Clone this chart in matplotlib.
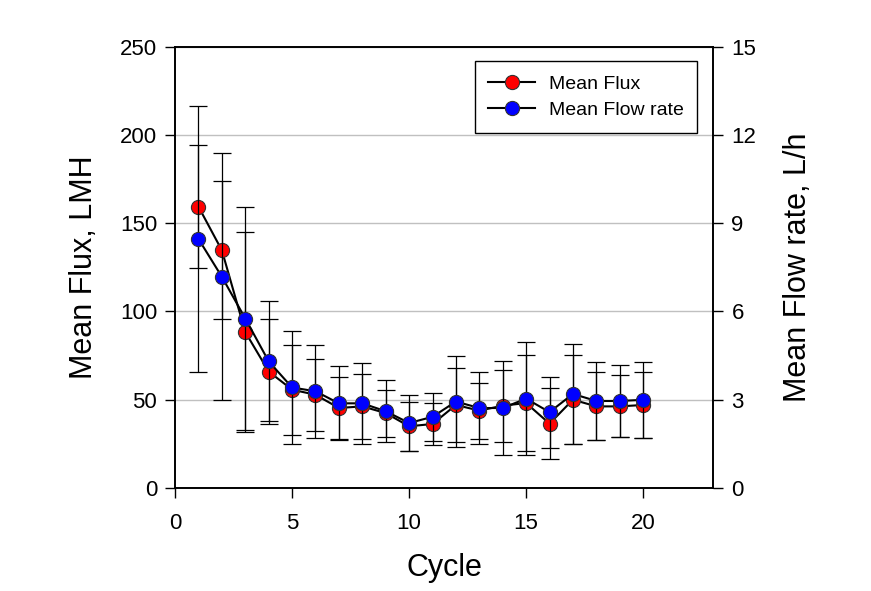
import matplotlib
matplotlib.use("Agg")
import matplotlib.pyplot as plt
from matplotlib.lines import Line2D

plt.rcParams['font.family'] = ['Liberation Sans', 'DejaVu Sans']

cycles = list(range(1, 21))
mean_flux = [159.5, 134.7, 88.3, 65.9, 55.6, 52.7, 45.2, 46.1, 42.3, 34.8,
             36.1, 46.9, 43.7, 46.5, 48.0, 36.3, 49.9, 46.1, 46.1, 46.9]
flux_err = [35.0, 39.2, 56.7, 30.0, 25.6, 20.4, 17.6, 18.4, 13.3, 13.8,
            12.0, 21.0, 15.9, 20.4, 27.2, 20.2, 25.3, 19.3, 17.6, 18.8]
mean_flow = [8.47, 7.18, 5.76, 4.30, 3.41, 3.28, 2.87, 2.87, 2.60, 2.20,
             2.41, 2.93, 2.71, 2.71, 3.03, 2.57, 3.19, 2.95, 2.95, 2.99]
flow_err = [4.54, 4.21, 3.80, 2.04, 1.91, 1.58, 1.26, 1.39, 1.06, 0.94,
            0.81, 1.56, 1.22, 1.61, 1.92, 1.21, 1.71, 1.33, 1.23, 1.30]

left_ticks = [0, 50, 100, 150, 200, 250]
right_ticks = [0, 3, 6, 9, 12, 15]
x_ticks = [0, 5, 10, 15, 20]

fig = plt.figure(figsize=(8.71, 5.91), dpi=100)
ax = fig.add_axes([0.201, 0.175, 0.618, 0.745])
ax2 = ax.twinx()

MS = 10.2
ax.errorbar(cycles, mean_flux, yerr=flux_err, fmt='none', ecolor='black',
            elinewidth=0.9, capsize=6.5, capthick=0.9, zorder=2)
ax.plot(cycles, mean_flux, color='black', lw=1.5, marker='o', ms=MS,
        mfc='#ff0000', mec='#333333', mew=0.8, zorder=3)

ax2.errorbar(cycles, mean_flow, yerr=flow_err, fmt='none', ecolor='black',
             elinewidth=0.9, capsize=6.5, capthick=0.9, zorder=2)
ax2.plot(cycles, mean_flow, color='black', lw=1.5, marker='o', ms=MS,
         mfc='#0000ff', mec='#333333', mew=0.8, zorder=3)

ax.set_xlim(0, 23)
ax.set_ylim(0, 250)
ax2.set_ylim(0, 15)
ax.set_xticks(x_ticks)
ax.set_yticks(left_ticks)
ax2.set_yticks(right_ticks)

ax.yaxis.grid(True, color='#c0c0c0', lw=1.0)
ax.set_axisbelow(True)

for a in (ax, ax2):
    for s in a.spines.values():
        s.set_linewidth(1.2)
        s.set_color('black')
    a.tick_params(direction='out', length=7, width=1.0, labelsize=16, pad=6)
ax.tick_params(axis='x', pad=11)

ax.set_xlabel('Cycle', fontsize=22, labelpad=14)
ax.set_ylabel('Mean Flux, LMH', fontsize=22, labelpad=15)
ax2.set_ylabel('Mean Flow rate, L/h', fontsize=22, labelpad=19)

handles = [
    Line2D([], [], color='black', lw=1.5, marker='o', ms=MS,
           mfc='#ff0000', mec='#333333', mew=0.8),
    Line2D([], [], color='black', lw=1.5, marker='o', ms=MS,
           mfc='#0000ff', mec='#333333', mew=0.8),
]
leg = ax2.legend(handles, ['Mean Flux', 'Mean Flow rate'], loc='upper right',
                 bbox_to_anchor=(0.970, 0.968), borderaxespad=0,
                 fontsize=14, frameon=True,
                 fancybox=False, edgecolor='black', framealpha=1,
                 handlelength=2.4, borderpad=0.7, labelspacing=0.45,
                 handletextpad=0.7)
leg.get_frame().set_linewidth(1.0)

fig.savefig('out.png', dpi=100)
